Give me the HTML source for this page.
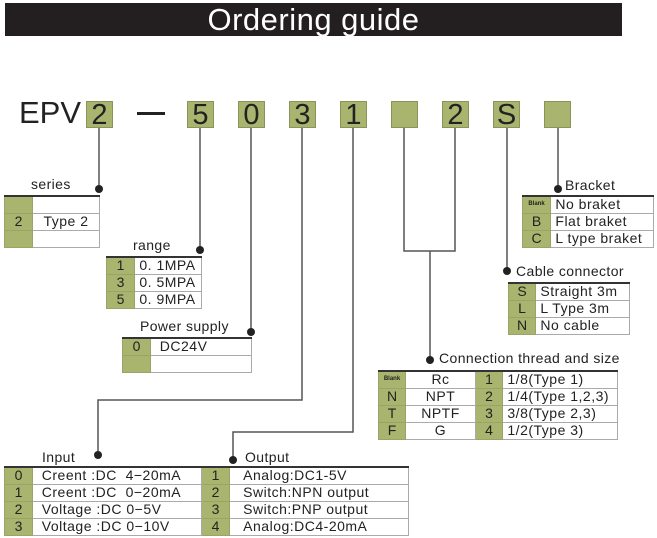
<!DOCTYPE html>
<html><head><meta charset="utf-8"><style>
*{margin:0;padding:0;box-sizing:border-box}
body{width:657px;height:538px;background:#fff;position:relative;overflow:hidden;font-family:"Liberation Sans",sans-serif;color:#222}
.a{position:absolute}
.bar{left:5px;top:3px;width:617px;height:33px;background:#231f20;color:#fff;font-size:31px;text-align:center;line-height:33px;letter-spacing:0.5px}
.box{position:absolute;top:101px;width:27px;height:27px;background:#a9b46e;border:1px solid #8a9458;font-size:29px;line-height:27px;text-align:center;color:#222}
table{position:absolute;border-collapse:collapse;font-size:14px;letter-spacing:0.5px;table-layout:fixed}
td{height:17px;border:1px solid #aaa;padding:0;line-height:15px;white-space:nowrap;overflow:hidden}
tr:first-child td{border-top:2px solid #333}
td.g{background:#a9b46e;text-align:center;border-color:#9aa468;letter-spacing:0}
.l{font-size:14px;letter-spacing:0.4px;position:absolute;white-space:nowrap}
.sm{font-size:6px;font-weight:bold}
</style></head><body>
<div class="a bar">Ordering guide</div>
<div class="a" style="left:19px;top:96px;font-size:31px;line-height:34px">EPV</div>
<div class="a" style="left:137px;top:112px;width:28px;height:3px;background:#222"></div>
<div class="box" style="left:86px">2</div>
<div class="box" style="left:187px">5</div>
<div class="box" style="left:238px">0</div>
<div class="box" style="left:289px">3</div>
<div class="box" style="left:340px">1</div>
<div class="box" style="left:391px"></div>
<div class="box" style="left:442px">2</div>
<div class="box" style="left:493px">S</div>
<div class="box" style="left:544px"></div>
<svg class="a" style="left:0;top:0" width="657" height="538">
<g stroke="#555" stroke-width="1.5" fill="none">
<path d="M99 128V189"/><path d="M200 128V250"/><path d="M251 128V332"/>
<path d="M302 128V400H98V455"/><path d="M353 128V432H233V460"/>
<path d="M404 128V251H455V128"/><path d="M430 251V360"/>
<path d="M507 128V271"/><path d="M558 128V189"/>
</g>
<g fill="#222">
<circle cx="99" cy="189" r="4"/><circle cx="200" cy="250" r="4"/><circle cx="251" cy="332" r="4"/>
<circle cx="98" cy="455" r="4"/><circle cx="233" cy="460" r="4"/><circle cx="430" cy="360" r="4"/>
<circle cx="507" cy="271" r="4"/><circle cx="558" cy="189" r="4"/>
</g></svg>

<div class="l" style="left:31px;top:176px">series</div>
<table style="left:4px;top:195px;width:96px"><col style="width:28px"><col>
<tr><td class="g"></td><td></td></tr><tr><td class="g">2</td><td style="text-align:center">Type 2</td></tr><tr><td class="g"></td><td></td></tr></table>

<div class="l" style="left:133px;top:237px">range</div>
<table style="left:106px;top:256px;width:96px"><col style="width:28px"><col>
<tr><td class="g">1</td><td>&nbsp;0. 1MPA</td></tr><tr><td class="g">3</td><td>&nbsp;0. 5MPA</td></tr><tr><td class="g">5</td><td>&nbsp;0. 9MPA</td></tr></table>

<div class="l" style="left:140px;top:318px">Power supply</div>
<table style="left:122px;top:337px;width:130px"><col style="width:28px"><col>
<tr><td class="g">0</td><td>&nbsp;&nbsp;DC24V</td></tr><tr><td class="g"></td><td></td></tr></table>

<div class="l" style="left:42px;top:449px">Input</div>
<div class="l" style="left:245px;top:449px">Output</div>
<table style="left:4px;top:466px;width:405px"><col style="width:28px"><col style="width:169px"><col style="width:28px"><col>
<tr><td class="g">0</td><td>&nbsp;&nbsp;Creent :DC &nbsp;4−20mA</td><td class="g">1</td><td>&nbsp;&nbsp;&nbsp;Analog:DC1-5V</td></tr>
<tr><td class="g">1</td><td>&nbsp;&nbsp;Creent :DC &nbsp;0−20mA</td><td class="g">2</td><td>&nbsp;&nbsp;&nbsp;Switch:NPN output</td></tr>
<tr><td class="g">2</td><td>&nbsp;&nbsp;Voltage :DC 0−5V</td><td class="g">3</td><td>&nbsp;&nbsp;&nbsp;Switch:PNP output</td></tr>
<tr><td class="g">3</td><td>&nbsp;&nbsp;Voltage :DC 0−10V</td><td class="g">4</td><td>&nbsp;&nbsp;&nbsp;Analog:DC4-20mA</td></tr></table>

<div class="l" style="left:439px;top:350px">Connection thread and size</div>
<table style="left:378px;top:370px;width:240px"><col style="width:27px"><col style="width:70px"><col style="width:27px"><col>
<tr><td class="g sm">Blank</td><td style="text-align:center">Rc</td><td class="g">1</td><td>&nbsp;1/8(Type 1)</td></tr>
<tr><td class="g">N</td><td style="text-align:center">NPT</td><td class="g">2</td><td>&nbsp;1/4(Type 1,2,3)</td></tr>
<tr><td class="g">T</td><td style="text-align:center">NPTF</td><td class="g">3</td><td>&nbsp;3/8(Type 2,3)</td></tr>
<tr><td class="g">F</td><td style="text-align:center">G</td><td class="g">4</td><td>&nbsp;1/2(Type 3)</td></tr></table>

<div class="l" style="left:516px;top:263px">Cable connector</div>
<table style="left:508px;top:282px;width:122px"><col style="width:27px"><col>
<tr><td class="g">S</td><td>&nbsp;Straight 3m</td></tr><tr><td class="g">L</td><td>&nbsp;L Type 3m</td></tr><tr><td class="g">N</td><td>&nbsp;No cable</td></tr></table>

<div class="l" style="left:565px;top:177px">Bracket</div>
<table style="left:522px;top:195px;width:132px"><col style="width:28px"><col>
<tr><td class="g sm">Blank</td><td>&nbsp;No braket</td></tr><tr><td class="g">B</td><td>&nbsp;Flat braket</td></tr><tr><td class="g">C</td><td>&nbsp;L type braket</td></tr></table>
</body></html>
